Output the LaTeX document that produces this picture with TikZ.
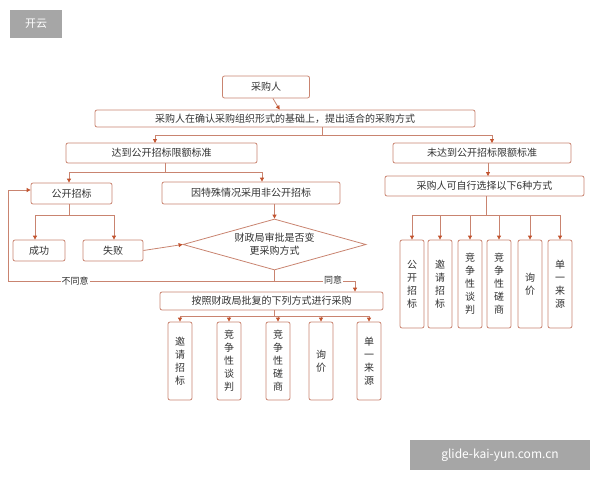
\documentclass[tikz,border=0pt]{standalone}
\usepackage{fontspec}
\setmainfont{Noto Sans CJK SC}
\usetikzlibrary{arrows.meta,shapes.geometric}
\definecolor{bd}{HTML}{C98470}
\definecolor{ar}{HTML}{C2532E}
\definecolor{tx}{HTML}{333333}
\tikzset{
 bx/.style={draw=bd,rounded corners=2pt,fill=white,text=tx,font=\fontsize{10}{12}\selectfont,inner sep=0pt,line width=0.8pt},
 vb/.style={bx,minimum width=24pt,align=center,font=\fontsize{10}{13}\selectfont},
 ln/.style={draw=bd,line width=0.8pt},
 arw/.style={ln,-{Triangle[length=4pt,width=4pt,color=ar]}},
 lab/.style={text=tx,font=\fontsize{9}{11}\selectfont,fill=white,inner sep=1pt}
}
\begin{document}
\begin{tikzpicture}[x=1pt,y=-1pt]
\useasboundingbox (0,0) rectangle (600,480);
\node[fill=black!35,text=white,minimum width=52pt,minimum height=28pt,inner sep=0pt,font=\fontsize{11}{13}\selectfont] (logo) at (36,24) {开云};
\node[fill=black!35,text=white,minimum width=180pt,minimum height=30pt,inner sep=0pt,font=\fontsize{12}{14}\selectfont] (wm) at (500,455) {glide-kai-yun.com.cn};

\node[bx,minimum width=87pt,minimum height=22pt] (r) at (266,87) {采购人};
\node[bx,minimum width=380pt,minimum height=17pt] (l) at (285,118.5) {采购人在确认采购组织形式的基础上，提出适合的采购方式};
\node[bx,minimum width=191pt,minimum height=20pt] (a) at (161.5,153) {达到公开招标限额标准};
\node[bx,minimum width=178pt,minimum height=20pt] (b) at (482,153) {未达到公开招标限额标准};
\node[bx,minimum width=199pt,minimum height=20pt] (c) at (484.5,186) {采购人可自行选择以下6种方式};
\node[bx,minimum width=81pt,minimum height=21pt] (g) at (71.5,193.5) {公开招标};
\node[bx,minimum width=178pt,minimum height=22pt] (f) at (251,193) {因特殊情况采用非公开招标};
\node[bx,minimum width=52pt,minimum height=21pt] (s) at (39,250.5) {成功};
\node[bx,minimum width=60pt,minimum height=21pt] (fa) at (113,250.5) {失败};
\node[diamond,draw=bd,line width=0.8pt,fill=white,minimum width=183pt,minimum height=51pt,inner sep=0pt,align=center,text=tx,font=\fontsize{10}{13}\selectfont,aspect=3.6] (d) at (274.5,244.5) {财政局审批是否变\\更采购方式};
\node[bx,minimum width=223pt,minimum height=18pt] (p) at (271.5,301) {按照财政局批复的下列方式进行采购};

\foreach \n/\x/\t in {r1/412/公\\开\\招\\标, r2/440/邀\\请\\招\\标, r3/470/竞\\争\\性\\谈\\判, r4/499/竞\\争\\性\\磋\\商, r5/530/询\\价, r6/560/单\\一\\来\\源}
  \node[vb,minimum height=88pt] (\n) at (\x,284) {\t};
\foreach \n/\x/\t in {q1/180/邀\\请\\招\\标, q2/229/竞\\争\\性\\谈\\判, q3/278/竞\\争\\性\\磋\\商, q4/321/询\\价, q5/369/单\\一\\来\\源}
  \node[vb,minimum height=78pt] (\n) at (\x,361) {\t};

\draw[arw] (r) -- (l);
\coordinate (j1) at (322,135);
\draw[ln] (l.south -| j1) -- (j1);
\draw[arw] (j1) -- (155,135) -- (155,143);
\draw[arw] (j1) -- (492,135) -- (492,143);
\draw[arw] (488,163) -- (488,176);
\draw[ln] (486,196) -- (486,215);
\draw[ln] (412,215) -- (560,215);
\foreach \n in {r1,r2,r3,r4,r5,r6} \draw[arw] (\n.north |- 0,215) -- (\n.north);
\draw[ln] (165,163) -- (165,172);
\draw[arw] (165,172) -- (69,172) -- (g.north -| 69,0);
\draw[arw] (165,172) -- (262,172) -- (f.north -| 262,0);
\draw[ln] (69,204) -- (69,215);
\draw[arw] (69,215) -- (35,215) -- (s.north -| 35,0);
\draw[arw] (69,215) -- (114,215) -- (fa.north -| 114,0);
\draw[arw] (f.south -| d.north) -- (d.north);
\draw[arw] (fa.east) -- (d.west);
\draw[ln] (d.south) -- (274.5,281);
\draw[arw] (274.5,281) -- (8,281) -- (8,190) -- (g.west |- 0,190);
\draw[arw] (274.5,281) -- (355,281) -- (p.north -| 355,0);
\node[lab] (ny) at (75,281) {不同意};
\node[lab] (yy) at (333,280) {同意};
\draw[ln] (274,310) -- (274,316);
\draw[ln] (180,316) -- (369,316);
\foreach \n in {q1,q2,q3,q4,q5} \draw[arw] (\n.north |- 0,316) -- (\n.north);
\end{tikzpicture}
\end{document}
